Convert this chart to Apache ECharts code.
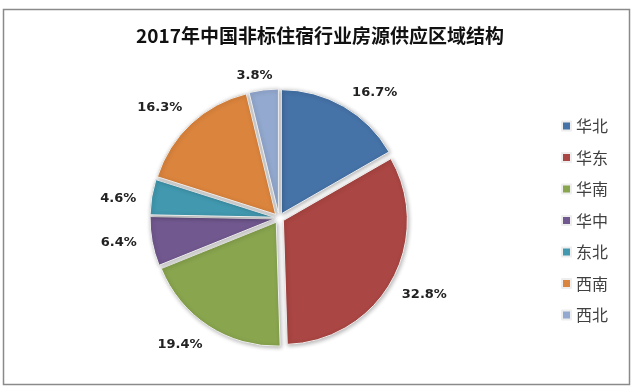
<!DOCTYPE html>
<html><head><meta charset="utf-8">
<script src="https://cdn.jsdelivr.net/npm/echarts@6/dist/echarts.min.js"></script>
<style>html,body{margin:0;padding:0;background:#fff}#c{width:640px;height:389px}</style>
</head><body><div id="c"></div>
<script>
const titleText = '2017年中国非标住宿行业房源供应区域结构';
const regions = ['华北','华东','华南','华中','东北','西南','西北'];
const shares = [16.7, 32.8, 19.4, 6.4, 4.6, 16.3, 3.8];
const colors = ['#4572A7','#AA4643','#89A54E','#71588F','#4198AF','#DB843D','#93A9CF'];

// small label nudges (styling only)
const labelNudge = [[14,16],[3,-3],[-10,-10],[0,-5],[0,7],[-8,9],[-5,19]];

const center = [279, 218];
const chart = echarts.init(document.getElementById('c'), null, {renderer:'canvas'});
chart.setOption({
  animation:false,
  backgroundColor:'#fff',
  color: colors,
  title:{text:titleText,left:'center',top:21,textStyle:{fontFamily:'"Noto Sans CJK SC"',fontWeight:'bold',fontSize:19,color:'#111'}},
  graphic:[{type:'rect',shape:{x:3.5,y:9.5,width:626,height:375},style:{fill:'none',stroke:'#8a8a8a',lineWidth:1.5},z:-1}],
  legend:{orient:'vertical',left:556,top:113,itemWidth:9,itemHeight:9,itemGap:15.5,icon:'rect',
    data:regions,
    textStyle:{fontFamily:'"Noto Sans CJK SC"',fontSize:16,color:'#404040'}},
  series:[{
    type:'pie',
    center:center,
    radius:[0,124],
    startAngle:90,
    clockwise:true,
    selectedMode:'multiple',
    selectedOffset:5,
    itemStyle:{borderColor:'#eee',borderWidth:1,shadowColor:'rgba(0,0,0,0.3)',shadowBlur:4,shadowOffsetX:1,shadowOffsetY:1},
    label:{show:false},
    labelLine:{show:false},
    data: regions.map((r,i)=>({name:r,value:shares[i],selected:true}))
  },{
    type:'pie',
    silent:true,
    center:center,
    radius:[140,180],
    startAngle:90,
    clockwise:true,
    itemStyle:{color:'rgba(0,0,0,0)'},
    label:{show:true,position:'inside',formatter:p=>p.value.toFixed(1)+'%',fontFamily:'"DejaVu Sans"',fontWeight:'bold',fontSize:13,color:'#222'},
    labelLine:{show:false},
    emphasis:{disabled:true},
    data: regions.map((r,i)=>({name:r,value:shares[i],label:{offset:labelNudge[i]}}))
  }]
});
</script></body></html>
